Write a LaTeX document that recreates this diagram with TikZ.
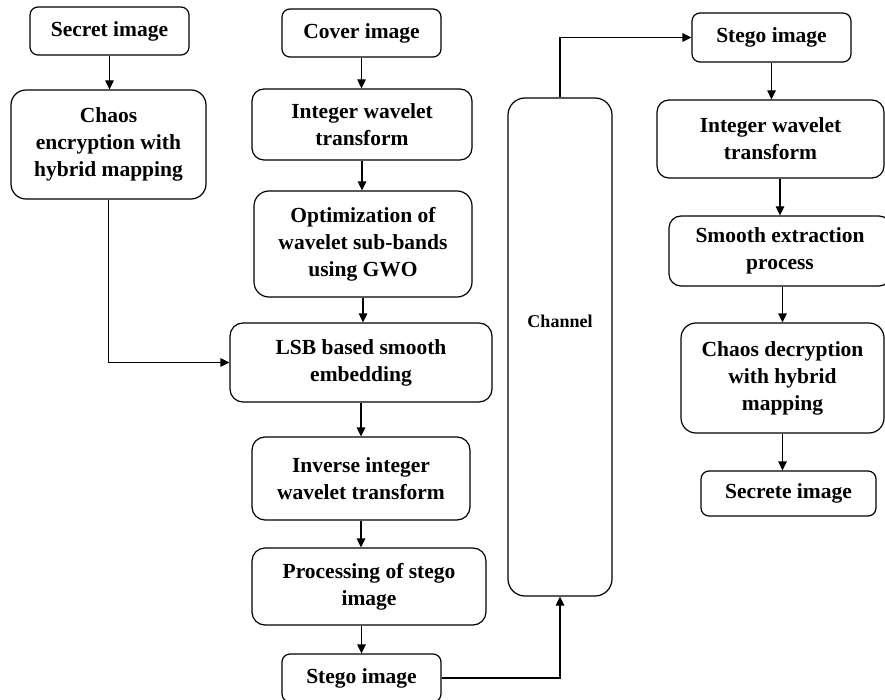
\documentclass[tikz,border=0pt]{standalone}
\usepackage{fontspec}
\setmainfont{Liberation Serif}
\usetikzlibrary{arrows.meta}
\begin{document}
\begin{tikzpicture}[x=1pt,y=-1pt,
  sbox/.style={draw, line width=1.2pt, rounded corners=8pt, align=center, inner sep=0pt, font=\bfseries\fontsize{21.5}{27}\selectfont},
  lbox/.style={sbox, rounded corners=15pt},
  arr/.style={line width=1.2pt, -{Triangle[length=9pt,width=8.5pt]}},
  lbl/.style={font=\bfseries\fontsize{18}{22}\selectfont, inner sep=0pt}]
\useasboundingbox (0,0) rectangle (885,700);
% left column
\node[sbox, minimum width=159pt, minimum height=48pt] (sec) at (109.5,31) {Secret image};
\node[lbox, minimum width=195pt, minimum height=109pt] (enc) at (108.5,144.5) {Chaos\\encryption with\\hybrid mapping};
% middle column
\node[sbox, minimum width=159pt, minimum height=48pt] (cov) at (361.5,33) {Cover image};
\node[sbox, rounded corners=12pt, minimum width=220pt, minimum height=71pt] (iwta) at (362,124.5) {Integer wavelet\\transform};
\node[lbox, minimum width=218pt, minimum height=106pt] (opt) at (363,244) {Optimization of\\wavelet sub-bands\\using GWO};
\node[sbox, rounded corners=13pt, minimum width=262pt, minimum height=79pt] (lsb) at (361,362.5) {LSB based smooth\\embedding};
\node[sbox, rounded corners=13pt, minimum width=218pt, minimum height=83pt] (inv) at (361,478.5) {Inverse integer\\wavelet transform};
\node[sbox, rounded corners=13pt, minimum width=234pt, minimum height=77pt] (proc) at (369,586.5) {Processing of stego\\image};
\node[sbox, minimum width=159pt, minimum height=48pt] (stga) at (361.5,678) {Stego image};
% channel
\node[draw, line width=1.2pt, rounded corners=17pt, minimum width=104pt, minimum height=498pt, inner sep=0pt] (ch) at (560,347) {};
\node[lbl] (chl) at (560,321) {Channel};
% right column
\node[sbox, minimum width=159pt, minimum height=49pt] (stgb) at (771.5,37.5) {Stego image};
\node[sbox, rounded corners=12pt, minimum width=227pt, minimum height=78pt] (iwtb) at (770.5,139) {Integer wavelet\\transform};
\node[sbox, rounded corners=12pt, minimum width=222pt, minimum height=70pt] (sme) at (780,251) {Smooth extraction\\process};
\node[lbox, minimum width=203pt, minimum height=110pt] (dec) at (782.5,378) {Chaos decryption\\with hybrid\\mapping};
\node[sbox, minimum width=175pt, minimum height=45pt] (sc) at (788.5,493.5) {Secrete image};
% connectors
\draw[arr] (sec.south) -- (sec.south |- enc.north);
\draw[arr] (enc.south) |- (lsb.west);
\draw[arr] (cov.south) -- (cov.south |- iwta.north);
\draw[arr] (iwta.south) -- (iwta.south |- opt.north);
\draw[arr] (opt.south) -- (opt.south |- lsb.north);
\draw[arr] (lsb.south) -- (lsb.south |- inv.north);
\draw[arr] (inv.south) -- (inv.south |- proc.north);
\draw[arr] (stga.north |- proc.south) -- (stga.north);
\draw[arr] (stga.east) -| (ch.south);
\draw[arr] (ch.north) |- (stgb.west);
\draw[arr] (stgb.south) -- (stgb.south |- iwtb.north);
\draw[arr] (sme.north |- iwtb.south) -- (sme.north);
\draw[arr] (dec.north |- sme.south) -- (dec.north);
\draw[arr] (dec.south) -- (dec.south |- sc.north);
\end{tikzpicture}
\end{document}
